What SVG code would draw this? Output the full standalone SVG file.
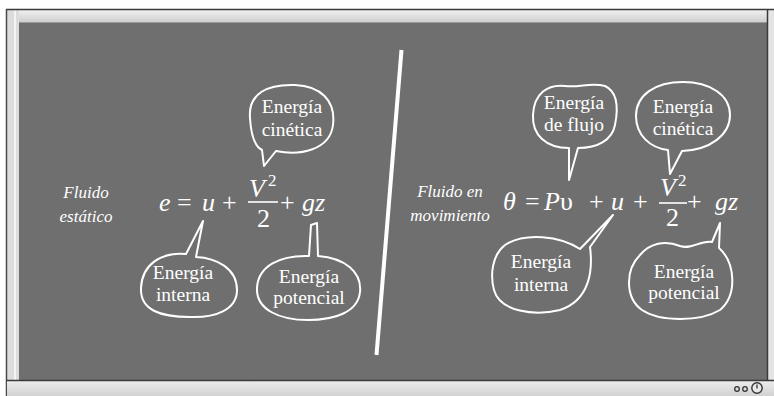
<svg xmlns="http://www.w3.org/2000/svg" width="774" height="396" viewBox="0 0 774 396">
<style>
.t{font-family:"Liberation Serif","Times New Roman",serif;fill:#fff}
.lbl{font-size:19.5px;text-anchor:middle}
.it{font-style:italic}
.side{font-size:17px;font-style:italic;text-anchor:middle}
.eq{font-size:26px}
.sup{font-size:17px}
.bub{fill:none;stroke:#fff;stroke-width:2;stroke-linejoin:round;stroke-linecap:round}
</style>
<defs>
<linearGradient id="gTop" x1="0" y1="0" x2="0" y2="1"><stop offset="0" stop-color="#f0f0f0"/><stop offset="1" stop-color="#cdcdcd"/></linearGradient>
<linearGradient id="gBot" x1="0" y1="0" x2="0" y2="1"><stop offset="0" stop-color="#ececec"/><stop offset="1" stop-color="#d2d2d2"/></linearGradient>
</defs>
<g id="frame">
<rect x="0" y="0" width="774" height="396" fill="#fff"/>
<rect x="6" y="9" width="768" height="387" fill="#dcdcdc"/>
<rect x="14" y="9" width="2" height="372" fill="#f4f4f4"/>
<rect x="19" y="10" width="748" height="13" fill="url(#gTop)"/>
<line x1="19" y1="22.5" x2="767" y2="22.5" stroke="#9a9a9a" stroke-width="1"/>
<rect x="19" y="23" width="748" height="357" fill="#6f6f6f"/>
<rect x="768" y="10" width="6" height="370" fill="#e4e4e4"/>
<line x1="6" y1="9.5" x2="774" y2="9.5" stroke="#3a3a3a" stroke-width="1.5"/>
<line x1="6.5" y1="9" x2="6.5" y2="396" stroke="#4a4a4a" stroke-width="1.5"/>
<line x1="767.5" y1="10" x2="767.5" y2="380" stroke="#3a3a3a" stroke-width="1.5"/>
<rect x="7" y="381" width="767" height="15" fill="url(#gBot)"/>
<line x1="6" y1="380.5" x2="774" y2="380.5" stroke="#3a3a3a" stroke-width="1.5"/>
<circle cx="737" cy="389" r="2.3" fill="none" stroke="#333" stroke-width="1.3"/>
<circle cx="745" cy="389" r="2.3" fill="none" stroke="#333" stroke-width="1.3"/>
<circle cx="757" cy="388" r="5.2" fill="#e8e8e8" stroke="#333" stroke-width="1.4"/>
<line x1="757" y1="384.5" x2="757" y2="388.5" stroke="#333" stroke-width="1.3"/>
</g>
<g id="divider">
<line x1="401.5" y1="50" x2="376.5" y2="355" stroke="#fff" stroke-width="4"/>
</g>
<g id="label-estatico">
<text class="t side" x="86" y="198">Fluido</text>
<text class="t side" x="86" y="222">estático</text>
</g>
<g id="eq-left" class="t eq">
<text x="159" y="211" class="it">e</text>
<text x="177" y="211">=</text>
<text x="202" y="211" class="it">u</text>
<text x="222" y="211">+</text>
<text x="249" y="197" class="it">V</text>
<text x="268" y="186" class="sup">2</text>
<line x1="248" y1="202" x2="278" y2="202" stroke="#fff" stroke-width="1.6"/>
<text x="257" y="227">2</text>
<text x="280" y="211">+</text>
<text x="302" y="211" class="it">gz</text>
</g>
<g id="bubble-cinetica-left">
<path class="bub" d="M262 150 L264 166 L276 151 C300 156 330 150 333 125 C336 100 320 86 295 85 C268 84 248 93 250 118 C251 135 254 146 262 150 Z"/>
<text class="t lbl" x="292" y="113">Energía</text>
<text class="t lbl" x="292" y="136">cinética</text>
</g>
<g id="bubble-interna-left">
<path class="bub" d="M186 254 L203 221 L196 257 C216 258 237 268 237 290 C237 310 215 318 190 317 C160 317 140 310 141 288 C142 265 160 252 186 254 Z"/>
<text class="t lbl" x="183" y="279">Energía</text>
<text class="t lbl" x="183" y="301">interna</text>
</g>
<g id="bubble-potencial-left">
<path class="bub" d="M309 256 L311 225 L317 223 L318 256 C345 258 362 272 360 292 C358 312 335 320 308 320 C280 320 256 310 257 288 C258 266 280 255 309 256 Z"/>
<text class="t lbl" x="309" y="283">Energía</text>
<text class="t lbl" x="309" y="304">potencial</text>
</g>
<g id="label-movimiento">
<text class="t side" x="450" y="197">Fluido en</text>
<text class="t side" x="450" y="221">movimiento</text>
</g>
<g id="eq-right" class="t eq">
<text x="503" y="210" class="it">θ</text>
<text x="525" y="210">=</text>
<text x="544" y="210" class="it">P</text>
<text x="560" y="210">υ</text>
<text x="589" y="210">+</text>
<text x="611" y="210" class="it">u</text>
<text x="633" y="210">+</text>
<text x="660" y="196" class="it">V</text>
<text x="678" y="186" class="sup">2</text>
<line x1="659" y1="203" x2="687" y2="203" stroke="#fff" stroke-width="1.6"/>
<text x="666" y="226">2</text>
<text x="687" y="210">+</text>
<text x="715" y="210" class="it">gz</text>
</g>
<g id="bubble-flujo">
<path class="bub" d="M578 148 L569 180 L569 148 C546 148 532 135 533 115 C534 93 548 84 565 86 C580 88 590 82 605 86 C618 92 618 110 615 125 C612 140 598 148 578 148 Z"/>
<text class="t lbl" x="574" y="109">Energía</text>
<text class="t lbl" x="574" y="131">de flujo</text>
</g>
<g id="bubble-cinetica-right">
<path class="bub" d="M668 150 L670 174 L682 151 C710 150 730 135 730 115 C730 95 710 82 683 82 C655 82 636 95 636 116 C636 135 650 148 668 150 Z"/>
<text class="t lbl" x="683" y="113">Energía</text>
<text class="t lbl" x="683" y="135">cinética</text>
</g>
<g id="bubble-interna-right">
<path class="bub" d="M580 249 L613 215 L590 247 C593 270 590 300 560 310 C535 316 500 312 494 290 C490 275 492 255 505 245 C525 232 560 236 580 249 Z"/>
<text class="t lbl" x="541" y="268">Energía</text>
<text class="t lbl" x="541" y="291">interna</text>
</g>
<g id="bubble-potencial-right">
<path class="bub" d="M712 242 L720 223 L719 248 C735 262 738 295 720 310 C700 322 660 322 642 310 C625 298 625 270 640 255 C650 243 665 240 680 246 C692 250 700 240 712 242 Z"/>
<text class="t lbl" x="684" y="278">Energía</text>
<text class="t lbl" x="684" y="299">potencial</text>
</g>
<g id="connectors"></g>
</svg>
